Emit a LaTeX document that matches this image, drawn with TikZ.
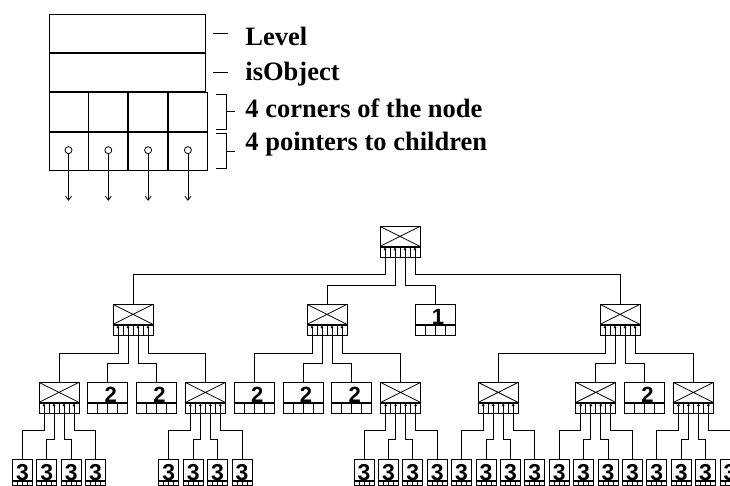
\documentclass[tikz,border=0pt]{standalone}
\usepackage{fontspec}
\setmainfont{Liberation Serif}
\newfontfamily\digitfont{Liberation Sans}
\usepackage{tikz}
\usetikzlibrary{arrows.meta, positioning, calc}

% internal tree node: crossed box, pointer cells with dots
\newcommand{\inode}[3]{%
  \node[xbox] (#1) at ({#2},#3) {};
  \node[cellrow] (#1c) at (#1.south) {};
  \foreach \k/\dx in {1/-15,2/-5,3/5,4/15}{
    \coordinate (#1p\k) at ([xshift=\dx pt, yshift=-2.5pt]#1c.north);
    \fill (#1p\k) circle (1.4pt);
  }}
% leaf node with its level
\newcommand{\lnode}[4]{%
  \node[numbox] (#1) at ({#2},#3) {};
  \node[cellrow] (#1c) at (#1.south) {};
  \node[digit] (#1d) at ([xshift=3pt, yshift=0.5pt]#1.south) {#4};}
% small leaf of level 3
\newcommand{\snode}[3]{%
  \node[smallbox] (#1) at ({#2},#3) {};
  \node[tinyrow] (#1c) at (#1.south) {};
  \node[sdigit] (#1d) at ([yshift=0.5pt]#1.south) {3};}
% pointer to child
\newcommand{\tlink}[3]{\draw (#1) -- ++(0,#3) -| (#2.north);}

\tikzset{
  field/.style={draw, minimum width=156pt, minimum height=38.5pt, inner sep=0pt},
  fcell/.style={draw, minimum width=39pt, minimum height=38.5pt, inner sep=0pt},
  lbl/.style={anchor=base west, inner sep=0pt, font=\fontsize{26.5}{30}\selectfont\bfseries},
  numbox/.style={draw, minimum width=40pt, minimum height=20pt, inner sep=0pt, anchor=north},
  xbox/.style={numbox, path picture={
    \draw (path picture bounding box.north west) -- (path picture bounding box.south east)
          (path picture bounding box.south west) -- (path picture bounding box.north east);}},
  cellrow/.style={draw, minimum width=40pt, minimum height=10pt, inner sep=0pt, anchor=north, path picture={
    \foreach \f in {0.25,0.5,0.75}
      \draw ($(path picture bounding box.south west)!\f!(path picture bounding box.south east)$) --
            ($(path picture bounding box.north west)!\f!(path picture bounding box.north east)$);}},
  smallbox/.style={draw, minimum width=20pt, minimum height=21pt, inner sep=0pt, anchor=north},
  tinyrow/.style={cellrow, minimum width=20pt, minimum height=4pt},
  digit/.style={anchor=base, inner sep=0pt, font=\digitfont\bfseries\fontsize{22}{22}\selectfont},
  sdigit/.style={digit, font=\digitfont\bfseries\fontsize{23}{23}\selectfont},
  ring/.style={draw, circle, minimum size=7pt, inner sep=0pt}
}

\begin{document}
\begin{tikzpicture}[x=1pt, y=-1pt, line width=0.8pt]
  \useasboundingbox (0,0) rectangle (730,485);

  % record layout
  \node[field] (lvl) at (127,33.25) {};
  \node[field, below=0pt of lvl] (obj) {};
  \node[fcell, anchor=north west] (c1) at (obj.south west) {};
  \node[fcell, right=0pt of c1] (c2) {};
  \node[fcell, right=0pt of c2] (c3) {};
  \node[fcell, right=0pt of c3] (c4) {};
  \foreach \i in {1,...,4}{
    \node[fcell, below=0pt of c\i] (q\i) {};
    \node[ring] (o\i) at ([yshift=1pt]q\i.center) {};
    \coordinate (e\i) at ([yshift=-30pt]q\i.south);
    \draw[-{Straight Barb[length=4pt, width=6pt]}] (o\i) -- (e\i);
  }

  \node[lbl] (tlvl) at (245,45) {Level};
  \node[lbl] (tobj) at (245,80) {isObject};
  \node[lbl] (tcor) at (245,117) {4 corners of the node};
  \node[lbl] (tptr) at (245,150) {4 pointers to children};
  \draw ([xshift=8pt]lvl.east) -- ++(15,0);
  \draw ([xshift=8pt]obj.east) -- ++(15,0);
  \draw ([xshift=8pt, yshift=-2pt]c4.north east) -- ++(11,0) -- ([xshift=19pt, yshift=2pt]c4.south east) -- ++(-11,0);
  \draw ([xshift=19pt]c4.east) -- ++(8,0);
  \draw ([xshift=8pt, yshift=-2pt]q4.north east) -- ++(11,0) -- ([xshift=19pt, yshift=2pt]q4.south east) -- ++(-11,0);
  \draw ([xshift=19pt]q4.east) -- ++(8,0);

  % quadtree
  \inode{root}{400}{226}
  \inode{na}{133}{304}
  \inode{nb}{327}{304}
  \lnode{nc}{435}{304}{1}
  \inode{nd}{620}{304}
  \tlink{rootp1}{na}{25}
  \tlink{rootp2}{nb}{36}
  \tlink{rootp3}{nc}{36}
  \tlink{rootp4}{nd}{25}

  \inode{naa}{59}{382}
  \lnode{nab}{107.8}{382}{2}
  \lnode{nac}{156.6}{382}{2}
  \inode{nad}{205.4}{382}
  \lnode{nba}{254.2}{382}{2}
  \lnode{nbb}{303}{382}{2}
  \lnode{nbc}{351.8}{382}{2}
  \inode{nbd}{400.6}{382}
  \inode{nda}{498.2}{382}
  \inode{ndb}{595.8}{382}
  \lnode{ndc}{644.6}{382}{2}
  \inode{ndd}{693.4}{382}
  \foreach \p/\a/\b/\c/\d in {na/naa/nab/nac/nad, nb/nba/nbb/nbc/nbd, nd/nda/ndb/ndc/ndd}{
    \tlink{\p p1}{\a}{26}
    \tlink{\p p2}{\b}{36}
    \tlink{\p p3}{\c}{36}
    \tlink{\p p4}{\d}{26}
  }

  \foreach \n/\x in {naa/59, nad/205.4, nbd/400.6, nda/498.2, ndb/595.8, ndd/693.4}{
    \foreach \k/\dx in {1/-36.6, 2/-12.2, 3/12.2, 4/36.6}
      \snode{\n s\k}{\x+\dx}{459};
    \tlink{\n p1}{\n s1}{25.5}
    \tlink{\n p2}{\n s2}{34.5}
    \tlink{\n p3}{\n s3}{34.5}
    \tlink{\n p4}{\n s4}{25.5}
  }
\end{tikzpicture}
\end{document}
